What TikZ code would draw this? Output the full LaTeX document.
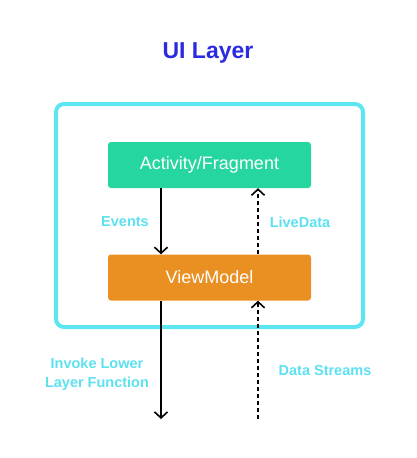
\documentclass[tikz,border=0pt]{standalone}
\usepackage{fontspec}
\setmainfont{Liberation Sans}
\usetikzlibrary{arrows.meta}
\definecolor{titleblue}{HTML}{2A2AE0}
\definecolor{framecyan}{HTML}{5CE6F2}
\definecolor{labelcyan}{HTML}{5CE1F0}
\definecolor{boxgreen}{HTML}{26D6A0}
\definecolor{boxorange}{HTML}{EA8F22}
\tikzset{
  box/.style={rounded corners=3pt, minimum width=203pt, minimum height=46pt, text=white, font=\fontsize{18}{20}\selectfont, inner sep=0pt},
  lbl/.style={text=labelcyan, font=\bfseries\fontsize{14.5}{19}\selectfont, align=center},
  flow/.style={line width=1.8pt, -{Straight Barb[length=6pt,width=13pt,line width=1.6pt]}},
  dflow/.style={flow, dash pattern=on 4pt off 3pt},
}
\begin{document}
\begin{tikzpicture}[x=1pt,y=-1pt]
\useasboundingbox (0,0) rectangle (417,458);
\node[text=titleblue, font=\bfseries\fontsize{23}{26}\selectfont] (title) at (208,53) {UI Layer};
\draw[framecyan, line width=4pt, rounded corners=8pt] (56,104) rectangle (363,327);
\node[box, fill=boxgreen] (act) at (209.5,165) {Activity/Fragment};
\node[box, fill=boxorange] (vm) at (209.5,277.5) {ViewModel};
\coordinate (lowL) at (161,419);
\coordinate (lowR) at (258,419);
\draw[flow] (act.south -| lowL) -- (vm.north -| lowL);
\draw[dflow] (vm.north -| lowR) -- (act.south -| lowR);
\draw[flow] (vm.south -| lowL) -- (lowL);
\draw[dflow] (lowR) -- (vm.south -| lowR);
\node[lbl] (ev) at (125,222) {Events};
\node[lbl] (ld) at (300,222) {LiveData};
\node[lbl] (inv) at (97,374) {Invoke Lower\\Layer Function};
\node[lbl] (ds) at (325,371) {Data Streams};
\end{tikzpicture}
\end{document}
